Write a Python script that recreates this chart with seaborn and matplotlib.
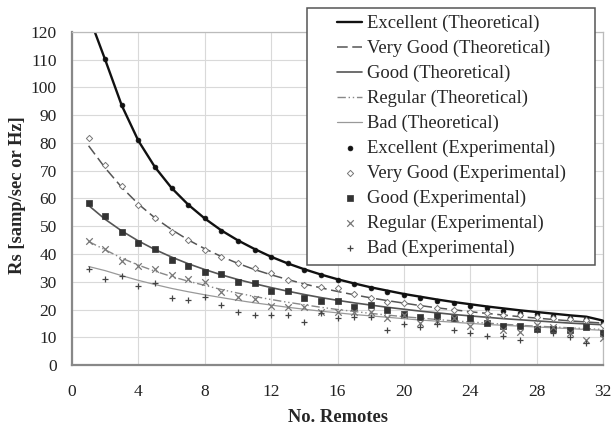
import numpy as np
import pandas as pd
import matplotlib
matplotlib.use("Agg")
import matplotlib.pyplot as plt
from matplotlib.patches import Rectangle
import seaborn as sns

# ---------------- data ----------------
remotes = list(range(1, 33))

exc_theo = [126, 110, 93.5, 80.8, 71.3, 63.8, 57.8, 52.8, 48.5, 44.9, 41.8, 39.0, 36.6,
            34.5, 32.6, 30.9, 29.4, 28.0, 26.8, 25.6, 24.6, 23.6, 22.7, 21.9, 21.1,
            20.4, 19.7, 19.1, 18.5, 17.9, 17.4, 16.0]
vg_theo = [79, 71, 64, 58, 53, 48.8, 45.1, 41.9, 39.1, 36.6, 34.4, 32.5, 30.8, 29.2,
           27.8, 26.5, 25.3, 24.2, 23.2, 22.3, 21.4, 20.6, 19.9, 19.2, 18.6, 18.0,
           17.4, 16.9, 16.4, 15.9, 15.5, 15.1]
good_theo = [57.5, 52.5, 48.3, 44.7, 41.6, 38.9, 36.5, 34.4, 32.5, 30.8, 29.3, 27.9,
             26.6, 25.4, 24.3, 23.3, 22.4, 21.6, 20.8, 20.1, 19.4, 18.8, 18.2, 17.7,
             17.2, 16.7, 16.3, 15.9, 15.5, 15.1, 14.8, 14.5]
reg_theo = [44.5, 41.5, 38.5, 36.0, 33.8, 31.9, 30.2, 28.7, 27.2, 25.9, 24.7, 23.6,
            22.6, 21.7, 20.8, 20.0, 19.3, 18.6, 18.0, 17.4, 16.9, 16.4, 15.9, 15.5,
            15.1, 14.7, 14.3, 14.0, 13.7, 13.4, 13.1, 12.8]
bad_theo = [35.5, 34.0, 32.2, 30.5, 29.0, 27.6, 26.4, 25.3, 24.3, 23.3, 22.4, 21.6,
            20.8, 20.1, 19.4, 18.8, 18.2, 17.7, 17.2, 16.7, 16.2, 15.8, 15.4, 15.0,
            14.6, 14.3, 14.0, 13.7, 13.4, 13.1, 12.8, 12.5]

exc_exp = [np.nan, 110.3, 93.6, 81.0, 71.5, 63.9, 57.7, 52.8, 48.4, 44.7, 41.4, 38.8,
           36.6, 34.2, 32.4, 30.6, 29.2, 27.6, 26.4, 25.2, 24.0, 23.2, 22.2, 21.3,
           20.4, 19.6, 18.9, 18.3, 17.7, 17.0, 16.5, 15.6]
vg_exp = [81.7, 72.0, 64.5, 57.6, 53.0, 48.0, 45.0, 41.4, 39.0, 36.7, 34.9, 33.0,
          30.6, 28.8, 28.0, 27.6, 25.6, 24.0, 22.8, 22.2, 21.3, 20.4, 19.8, 19.2,
          18.6, 18.0, 18.0, 17.4, 16.8, 16.6, 16.2, 14.5]
good_exp = [58.3, 53.7, 47.8, 44.0, 41.8, 38.0, 35.7, 33.4, 32.8, 29.8, 29.4, 26.8,
            26.8, 24.3, 23.0, 23.0, 21.0, 21.6, 19.8, 18.3, 17.4, 17.8, 17.0, 16.8,
            15.2, 14.0, 14.0, 12.8, 12.8, 12.6, 13.6, 11.7]
reg_exp = [44.8, 41.7, 37.5, 35.8, 34.6, 32.4, 31.0, 29.8, 26.4, 24.6, 23.7, 21.4,
           21.0, 21.0, 19.2, 19.0, 19.2, 19.2, 16.8, 18.0, 15.0, 16.0, 16.8, 14.0,
           16.4, 12.6, 12.0, 14.4, 13.8, 11.7, 9.0, 9.6]
bad_exp = [34.6, 31.0, 32.0, 28.5, 29.7, 24.0, 23.4, 24.4, 21.5, 19.2, 18.0, 18.0,
           18.0, 15.6, 18.9, 16.8, 17.2, 17.2, 12.6, 14.8, 13.8, 14.8, 12.6, 11.4,
           10.5, 10.5, 9.0, 12.6, 11.4, 10.0, 7.8, 11.4]

names = ["Excellent", "Very Good", "Good", "Regular", "Bad"]
x_ticks = [0, 4, 8, 12, 16, 20, 24, 28, 32]
y_ticks = list(range(0, 121, 10))

# ---------------- style ----------------
sns.set_style("white")
plt.rcParams["font.family"] = ["Liberation Serif", "DejaVu Serif"]

fig = plt.figure(figsize=(6.11, 4.29), dpi=100)
ax = fig.add_axes([72 / 611, (429 - 365) / 429, 531 / 611, 333 / 429])

theo_series = [exc_theo, vg_theo, good_theo, reg_theo, bad_theo]
theo_styles = [
    dict(color="#111111", lw=1.7, ls="-"),
    dict(color="#555555", lw=1.1, ls=(0, (7, 3))),
    dict(color="#555555", lw=1.2, ls="-"),
    dict(color="#888888", lw=1.0, ls=(0, (6, 2, 1, 2, 1, 2))),
    dict(color="#999999", lw=0.9, ls="-"),
]
for nm, ys, st in zip(names, theo_series, theo_styles):
    sns.lineplot(x=remotes, y=ys, ax=ax, label=f"{nm} (Theoretical)",
                 color=st["color"], linewidth=st["lw"], linestyle=st["ls"],
                 zorder=2)

exp_series = [exc_exp, vg_exp, good_exp, reg_exp, bad_exp]
exp_styles = [
    dict(marker="o", s=12, fc="#111111", ec="#111111", lw=0.5),
    dict(marker="D", s=10, fc="white", ec="#777777", lw=0.7),
    dict(marker="s", s=24, fc="#333333", ec="#333333", lw=0.5),
    dict(marker="x", s=22, fc="#777777", ec="#777777", lw=0.9),
    dict(marker="+", s=22, fc="#444444", ec="#444444", lw=0.9),
]
for nm, ys, st in zip(names, exp_series, exp_styles):
    sns.scatterplot(x=remotes, y=ys, ax=ax, label=f"{nm} (Experimental)",
                    marker=st["marker"], s=st["s"], facecolor=st["fc"],
                    edgecolor=st["ec"], color=st["ec"], linewidth=st["lw"],
                    zorder=3)

ax.set_xlim(0, 32)
ax.set_ylim(0, 120)
ax.set_xticks(x_ticks)
ax.set_yticks(y_ticks)
ax.grid(True, color="#d9d9d9", linewidth=0.8)
ax.set_axisbelow(True)
for side in ["top", "right"]:
    ax.spines[side].set_color("#bbbbbb")
    ax.spines[side].set_linewidth(0.9)
for side in ["left", "bottom"]:
    ax.spines[side].set_color("#888888")
    ax.spines[side].set_linewidth(1.6)
ax.tick_params(axis="both", length=0, labelsize=12.5, colors="#222222")
ax.tick_params(axis="x", pad=14)
ax.tick_params(axis="y", pad=11)

ax.set_xlabel("No. Remotes", fontsize=13.3, fontweight="bold")
ax.set_ylabel("Rs [samp/sec or Hz]", fontsize=13.3, fontweight="bold")
ax.xaxis.set_label_coords(0.5, (365 - 409) / 333)
ax.yaxis.set_label_coords((26 - 72) / 531, 0.51)

# legend frame (drawn as a patch so its padding can match the reference)
frame = Rectangle(((307 - 72) / 531, (365 - 265) / 333), (595 - 307) / 531,
                  (265 - 8) / 333, transform=ax.transAxes, clip_on=False,
                  facecolor="white", edgecolor="#555555", linewidth=1.1, zorder=9)
ax.add_patch(frame)

leg = ax.legend(loc="upper left", bbox_to_anchor=((337 - 72) / 531, (365 - 15) / 333),
                fontsize=13.4, frameon=False, handlelength=1.35, handletextpad=0.28,
                labelspacing=0.41, borderpad=0, borderaxespad=0)
leg.set_zorder(10)

fig.savefig("out.png", dpi=100, facecolor="white")
